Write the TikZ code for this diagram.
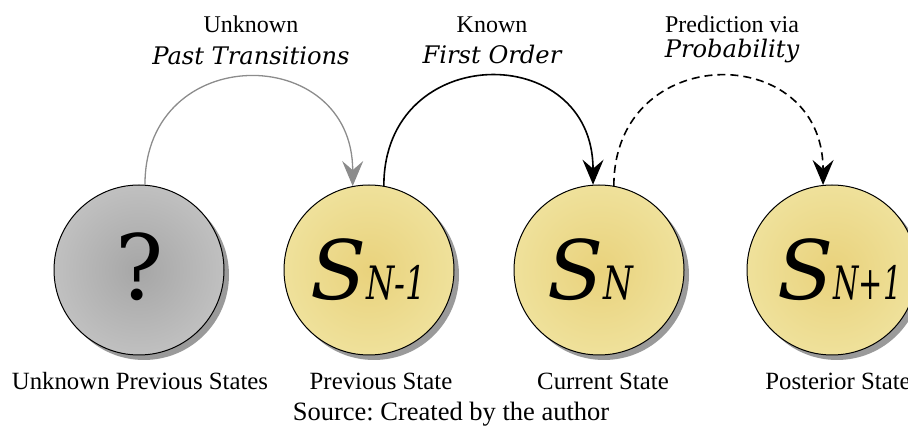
\documentclass[tikz,border=0pt]{standalone}
\usepackage{fontspec}
\usepackage{graphicx}
\newfontfamily\timesfont{Liberation Serif}
\newfontfamily\djfont{DejaVu Serif}
\frenchspacing
\usetikzlibrary{arrows.meta,shadows}
\definecolor{grayin}{HTML}{A6A6A6}
\definecolor{grayout}{HTML}{DADADA}
\definecolor{yelin}{HTML}{E9D27C}
\definecolor{yelout}{HTML}{F5F0BA}
\definecolor{shadowc}{HTML}{9A9A9A}
\definecolor{grayarc}{HTML}{8C8C8C}
\pgfdeclareradialshading{graystate}{\pgfpointorigin}{color(0bp)=(grayin); color(50bp)=(grayout); color(75bp)=(grayout)}
\pgfdeclareradialshading{yelstate}{\pgfpointorigin}{color(0bp)=(yelin); color(50bp)=(yelout); color(75bp)=(yelout)}
\newcommand{\stlab}[2]{{\djfont\itshape\fontsize{82}{82}\selectfont S}\scalebox{#1}[1]{\djfont\itshape\fontsize{46}{46}\selectfont #2}}
\begin{document}
\begin{tikzpicture}[x=1pt,y=1pt,
  state/.style={circle, draw=black, line width=1pt, minimum size=170pt, inner sep=0pt,
    drop shadow={shadow xshift=5pt, shadow yshift=-5pt, fill=shadowc, opacity=1}},
  graystate/.style={state, shading=graystate},
  yelstate/.style={state, shading=yelstate},
  stext/.style={anchor=base west, inner sep=0pt},
  toplab/.style={anchor=base, font=\timesfont\fontsize{24}{24}\selectfont},
  topit/.style={anchor=base, font=\djfont\fontsize{24.2}{25}\selectfont\itshape},
  botlab/.style={anchor=base, font=\timesfont\fontsize{24.8}{25}\selectfont},
  trans/.style={line width=1.6pt, -{Stealth[length=25pt, width=21pt, inset=9pt]}, out=90, in=90, looseness=1.77}
]
\useasboundingbox (0,0) rectangle (908,431);

\node[graystate] (q) at (139,161) {};
\node[yelstate]  (p) at (369,161) {};
\node[yelstate]  (c) at (599,161) {};
\node[yelstate]  (n) at (832,161) {};

\node[anchor=base, inner sep=0pt, font=\djfont\fontsize{90}{90}\selectfont] (qt) at (140,131) {?};
\node[stext] (pt) at (310,131) {\stlab{0.70}{N-1}};
\node[stext] (ct) at (547,131) {\stlab{0.74}{N}};
\node[stext] (nt) at (777,131) {\stlab{0.63}{N+1}};

\draw[trans, draw=grayarc, line width=1.3pt] (q.86) to (p.101);
\draw[trans] (p.80) to (c.94);
\draw[trans, dash pattern=on 8pt off 5pt] (c.80) to (n.96);

\node[toplab] (l1a) at (251,398) {Unknown};
\node[topit]  (l1b) at (251,366) {Past Transitions};
\node[toplab] (l2a) at (492,398) {Known};
\node[topit]  (l2b) at (492,367) {First Order};
\node[toplab] (l3a) at (732,398) {Prediction via};
\node[topit]  (l3b) at (732,373) {Probability};

\node[botlab] (b1) at (140,41) {Unknown Previous States};
\node[botlab] (b2) at (381,41) {Previous State};
\node[botlab] (b3) at (603,41) {Current State};
\node[botlab] (b4) at (838,41) {Posterior State};
\node[anchor=base, font=\timesfont\fontsize{26.5}{27}\selectfont] (src) at (451,10) {Source: Created by the author};
\end{tikzpicture}
\end{document}
